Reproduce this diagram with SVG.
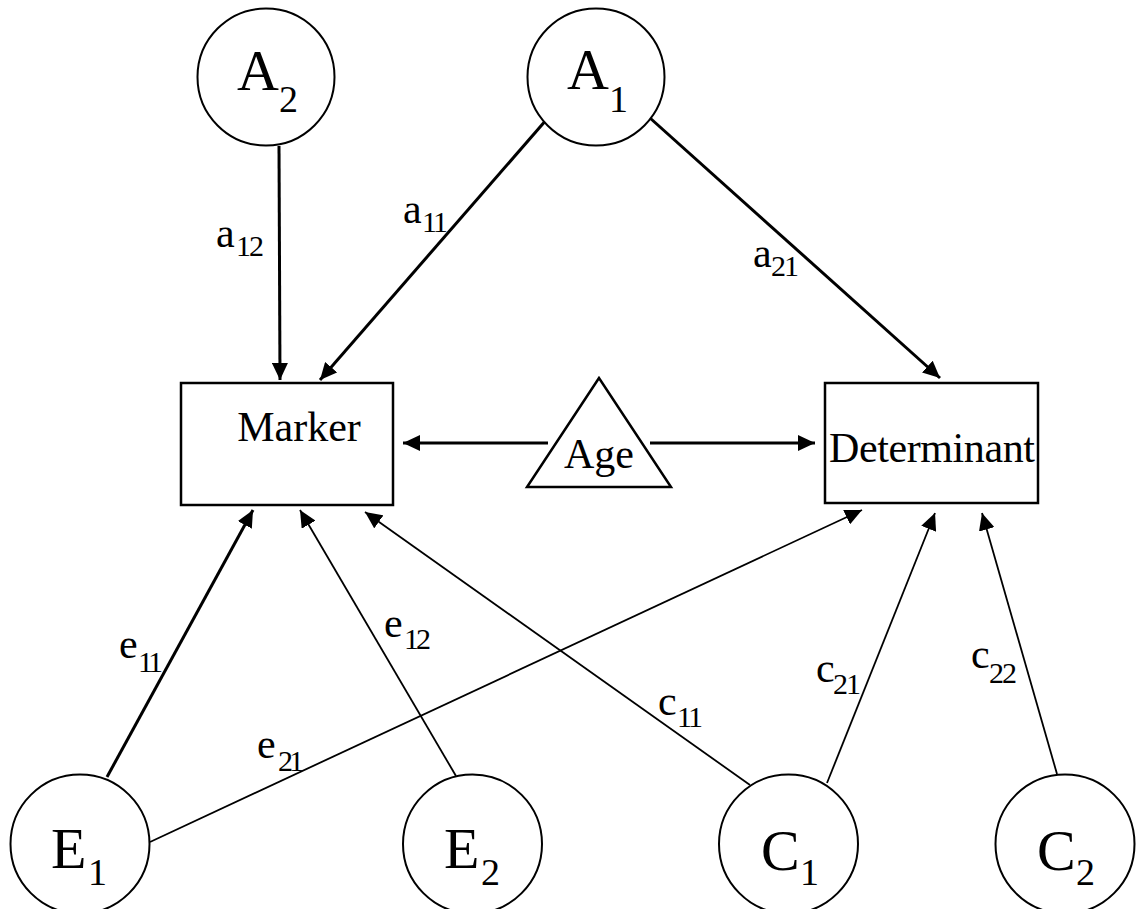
<svg xmlns="http://www.w3.org/2000/svg" width="1137" height="909" viewBox="0 0 1137 909">
<style>
  .bg { fill: #ffffff; }
  .node { fill: #ffffff; stroke: #000000; stroke-width: 2; }
  .box { fill: #ffffff; stroke: #000000; stroke-width: 2.5; }
  .big { font-family: "Liberation Serif", "Times New Roman", serif; font-size: 58px; fill: #000; }
  .bigsub { font-family: "Liberation Serif", "Times New Roman", serif; font-size: 38px; fill: #000; }
  .name { font-family: "Liberation Serif", "Times New Roman", serif; font-size: 42px; fill: #000; }
  .lbl { font-family: "Liberation Serif", "Times New Roman", serif; font-size: 42px; fill: #000; }
  .lblsub { font-family: "Liberation Serif", "Times New Roman", serif; font-size: 30px; fill: #000; }
  .thick { stroke: #000; stroke-width: 3; fill: none; marker-end: url(#ah); }
  .thin { stroke: #000; stroke-width: 1.8; fill: none; marker-end: url(#ah); }
</style>
<defs>
  <marker id="ah" markerUnits="userSpaceOnUse" markerWidth="18" markerHeight="16" refX="17" refY="8" orient="auto">
    <path d="M0,0 L17,8 L0,16 z" fill="#000"/>
  </marker>
</defs>
<rect class="bg" x="0" y="0" width="1137" height="909"/>

<g id="connectors">
  <line class="thick" x1="279" y1="146" x2="280" y2="380"/>
  <line class="thick" x1="547" y1="119" x2="320" y2="380"/>
  <line class="thick" x1="650" y1="118" x2="940" y2="378"/>
  <line class="thick" x1="548" y1="443" x2="403" y2="443"/>
  <line class="thick" x1="650" y1="443" x2="815" y2="443"/>
  <line class="thick" x1="107" y1="777" x2="253" y2="510"/>
  <line class="thin" x1="456" y1="776" x2="300" y2="510"/>
  <line class="thin" x1="150" y1="842" x2="862" y2="510"/>
  <line class="thin" x1="750" y1="785" x2="365" y2="512"/>
  <line class="thin" x1="827" y1="783" x2="935" y2="513"/>
  <line class="thin" x1="1057" y1="774" x2="982" y2="513"/>
</g>

<g id="labels">
  <text class="lbl" x="216" y="247">a</text><text class="lblsub" x="236" y="256" textLength="28">12</text>
  <text class="lbl" x="403" y="223">a</text><text class="lblsub" x="422" y="232" textLength="26">11</text>
  <text class="lbl" x="753" y="267">a</text><text class="lblsub" x="771" y="276" textLength="28">21</text>
  <text class="lbl" x="119" y="658">e</text><text class="lblsub" x="138" y="672" textLength="25">11</text>
  <text class="lbl" x="384" y="637">e</text><text class="lblsub" x="404" y="649" textLength="27">12</text>
  <text class="lbl" x="257" y="758">e</text><text class="lblsub" x="278" y="771" textLength="26">21</text>
  <text class="lbl" x="658" y="715">c</text><text class="lblsub" x="677" y="727" textLength="26">11</text>
  <text class="lbl" x="816" y="682">c</text><text class="lblsub" x="833" y="694" textLength="28">21</text>
  <text class="lbl" x="971" y="668">c</text><text class="lblsub" x="989" y="683" textLength="28">22</text>
</g>

<g id="A2">
  <circle class="node" cx="266" cy="77" r="68.5"/>
  <text class="big" x="237" y="90">A</text><text class="bigsub" x="279" y="112">2</text>
</g>
<g id="A1">
  <circle class="node" cx="596" cy="77" r="68.5"/>
  <text class="big" x="567" y="89">A</text><text class="bigsub" x="609" y="112">1</text>
</g>
<g id="Marker">
  <rect class="box" x="181" y="383" width="212" height="122"/>
  <text class="name" x="299" y="441" text-anchor="middle">Marker</text>
</g>
<g id="Age">
  <polygon class="box" points="599,378 527,487 671,487"/>
  <text class="name" x="599" y="468" text-anchor="middle">Age</text>
</g>
<g id="Determinant">
  <rect class="box" x="825" y="383" width="213" height="120"/>
  <text class="name" x="932" y="462" text-anchor="middle" textLength="206">Determinant</text>
</g>
<g id="E1">
  <circle class="node" cx="80" cy="844" r="69.5"/>
  <text class="big" x="51" y="868">E</text><text class="bigsub" x="88" y="885">1</text>
</g>
<g id="E2">
  <circle class="node" cx="472.5" cy="844" r="69.5"/>
  <text class="big" x="444" y="868">E</text><text class="bigsub" x="481" y="885">2</text>
</g>
<g id="C1">
  <circle class="node" cx="788.5" cy="844" r="69.5"/>
  <text class="big" x="761" y="870">C</text><text class="bigsub" x="800" y="885">1</text>
</g>
<g id="C2">
  <circle class="node" cx="1065" cy="844" r="69.5"/>
  <text class="big" x="1037" y="870">C</text><text class="bigsub" x="1076" y="885">2</text>
</g>
</svg>
